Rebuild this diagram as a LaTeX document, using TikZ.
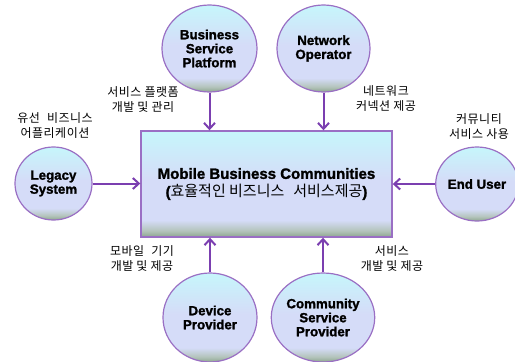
\documentclass[tikz,border=0pt]{standalone}
\usepackage{fontspec}
\setmainfont{Liberation Sans}
\newfontfamily\heavy[FakeBold=1.5]{Liberation Sans Bold}
\newfontfamily\kr{Noto Sans CJK KR}
\newfontfamily\krwide[LetterSpace=4]{Noto Sans CJK KR}
\usetikzlibrary{shapes.geometric,arrows.meta}

\definecolor{rim}{HTML}{9A6FC4}
\definecolor{link}{HTML}{7B3FB0}
\definecolor{fillTop}{HTML}{C6F6FB}
\definecolor{fillMid}{HTML}{D5DCF8}
\definecolor{fillLow}{HTML}{B4C4BC}
\definecolor{fillBot}{HTML}{8DA68E}

% soft cyan-to-lavender body with a greyish-green base
\pgfdeclareverticalshading{bubble}{100bp}{%
  color(0bp)=(fillBot); color(25bp)=(fillBot); color(28bp)=(fillLow);
  color(33bp)=(fillMid); color(52bp)=(fillMid);
  color(75bp)=(fillTop); color(100bp)=(fillTop)}

\tikzset{
  actor/.style={ellipse, draw=rim, line width=1.2pt, shading=bubble,
    inner sep=0pt, align=center,
    font=\heavy\fontsize{13.3}{14}\selectfont},
  hub/.style={rectangle, draw=rim, line width=1.4pt, shading=bubble,
    inner sep=0pt, align=center,
    font=\fontsize{15}{18}\selectfont,
    minimum width=251pt, minimum height=106pt},
  note/.style={align=center, inner sep=0pt,
    font=\krwide\fontsize{12}{15}\selectfont},
  flow/.style={draw=link, line width=2pt,
    -{Straight Barb[length=6pt,width=11pt,line width=2pt]}}
}

\begin{document}
\begin{tikzpicture}[x=1pt,y=-1pt]
\useasboundingbox (0,0) rectangle (515,362);

% central platform
\node[hub] (main) at (266.5,184) {%
  {\heavy Mobile Business Communities}\\
  {\kr{\heavy(}효율적인 비즈니스\hspace{0.6em}서비스제공{\heavy)}}};

% participants
\node[actor, minimum width=95pt, minimum height=87pt] (bsp) at (209.5,48.5) {Business\\Service\\Platform};
\node[actor, minimum width=93pt, minimum height=87pt] (net) at (323.5,48.5) {Network\\Operator};
\node[actor, minimum width=77pt, minimum height=73pt] (legacy) at (53.5,183.5) {Legacy\\System};
\node[actor, minimum width=76pt, minimum height=74pt] (user) at (477,184) {End User};
\node[actor, minimum width=94pt, minimum height=89pt] (device) at (210,317.5) {Device\\Provider};
\node[actor, minimum width=94pt, minimum height=89pt] (csp) at (323,317.5) {Community\\Service\\Provider};

% roles
\node[note] (bspNote) at (143,99.5) {서비스 플랫폼\\개발 및 관리};
\node[note] (netNote) at (386,98.5) {네트워크\\커넥션 제공};
\node[note] (legacyNote) at (55,126) {유선\hspace{0.6em}비즈니스\\어플리케이션};
\node[note] (userNote) at (479,126.5) {커뮤니티\\서비스 사용};
\node[note] (deviceNote) at (142,259) {모바일\hspace{0.6em}기기\\개발 및 제공};
\node[note] (cspNote) at (392,259) {서비스\\개발 및 제공};

% contributions into the platform
\draw[flow] (bsp) -- (bsp |- main.north);
\draw[flow] (net) -- (net |- main.north);
\draw[flow] (legacy) -- (legacy -| main.west);
\draw[flow] (user) -- (user -| main.east);
\draw[flow] (device) -- (device |- main.south);
\draw[flow] (csp) -- (csp |- main.south);
\end{tikzpicture}
\end{document}
